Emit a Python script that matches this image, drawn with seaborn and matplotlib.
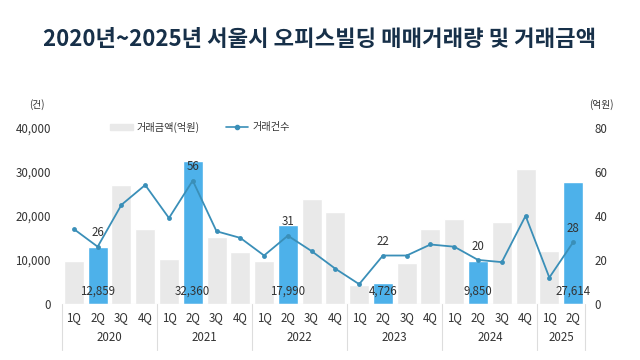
import matplotlib
matplotlib.use('Agg')
import matplotlib.pyplot as plt
import matplotlib.transforms as mtransforms
from matplotlib.patches import Patch
from matplotlib.lines import Line2D
import seaborn as sns
import pandas as pd

sns.set_style('white')
plt.rcParams['font.family'] = ['Noto Sans CJK KR', 'DejaVu Sans']

# 데이터
years = ['2020', '2021', '2022', '2023', '2024', '2025']
quarters = ['1Q', '2Q', '3Q', '4Q'] * 5 + ['1Q', '2Q']
amount = [9800, 12859, 27000, 17100,
          10200, 32360, 15100, 11700,
          9800, 17990, 23900, 20900,
          4400, 4726, 9300, 17100,
          19200, 9850, 18600, 30600,
          12100, 27614]
count = [34, 26, 45, 54,
         39, 56, 33, 30,
         22, 31, 24, 16,
         9, 22, 22, 27,
         26, 20, 19, 40,
         12, 28]
highlight = [q == '2Q' for q in quarters]

df = pd.DataFrame({'pos': range(len(amount)), 'q': quarters,
                   'amount': amount, 'count': count, 'hl': highlight})
df['key'] = df['pos'].astype(str)

gray = '#e9e9e9'
blue = '#4db1ea'
line_c = '#3a8fb8'
txt = '#333333'

fig = plt.figure(figsize=(6.4, 3.6), dpi=100)
ax = fig.add_axes([62/640, 1-304/360, (585-62)/640, (304-127.7)/360])

pal = {k: (blue if h else gray) for k, h in zip(df['key'], df['hl'])}
sns.barplot(data=df, x='key', y='amount', hue='key', palette=pal,
            width=0.84, legend=False, ax=ax, saturation=1)
ax.set_xlim(-0.5, len(amount)-0.5)
ax.set_ylim(0, 40000)
ax.set_yticks([0, 10000, 20000, 30000, 40000])
ax.set_yticklabels(['0', '10,000', '20,000', '30,000', '40,000'])
ax.set_xticks(range(len(amount)))
ax.set_xticklabels(quarters)
ax.tick_params(axis='both', length=0, labelsize=8.3, colors=txt)
ax.tick_params(axis='x', pad=5)
ax.tick_params(axis='y', pad=8)
ax.set_xlabel('')
ax.set_ylabel('')
for s in ax.spines.values():
    s.set_visible(False)

# 강조 막대 값
for i, r in df.iterrows():
    if r['hl']:
        ax.text(i, 3000, f"{r['amount']:,}", ha='center', va='center',
                fontsize=8.3, color=txt)

# 연도 구분
trans = mtransforms.blended_transform_factory(ax.transData, ax.transAxes)
bounds = [-0.5, 3.5, 7.5, 11.5, 15.5, 19.5, 21.5]
for b in bounds:
    ax.plot([b, b], [0, -0.26], transform=trans, color='#dddddd',
            lw=0.8, clip_on=False)
for y, a, b in zip(years, bounds[:-1], bounds[1:]):
    ax.text((a+b)/2, -0.19, y, transform=trans, ha='center', va='center',
            fontsize=8.3, color=txt)
ax.axhline(0, color='#e4e4e4', lw=0.8)

# 거래건수 선
ax2 = ax.twinx()
sns.lineplot(data=df, x='pos', y='count', color=line_c, lw=1.3,
             marker='o', markersize=3.5, markeredgewidth=0, ax=ax2)
ax2.set_ylim(0, 80)
ax2.set_yticks([0, 20, 40, 60, 80])
ax2.tick_params(axis='y', length=0, labelsize=8.3, colors=txt, pad=7)
ax2.set_xlabel('')
ax2.set_ylabel('')
for s in ax2.spines.values():
    s.set_visible(False)
for i, r in df.iterrows():
    if r['hl']:
        ax2.text(i, r['count']+6.3, str(r['count']), ha='center', va='center',
                 fontsize=8.3, color=txt)

# 단위
fig.text(37/640, 1-105/360, '(건)', ha='center', va='center', fontsize=7, color=txt)
fig.text(601/640, 1-105/360, '(억원)', ha='center', va='center', fontsize=7, color=txt)

handles = [Patch(color=gray, label='거래금액(억원)'),
           Line2D([0], [0], color=line_c, lw=1.2, marker='o', markersize=3,
                  label='거래건수')]
fig.legend(handles=handles, loc='center', bbox_to_anchor=(200/640, 1-127/360),
           ncol=2, frameon=False, fontsize=7.3, handlelength=2.2,
           handleheight=0.6, handletextpad=0.4, columnspacing=2.6,
           labelcolor=txt)

fig.text(0.5, 1-40/360, '2020년~2025년 서울시 오피스빌딩 매매거래량 및 거래금액',
         ha='center', va='center', fontsize=16, fontweight='bold', color='#173049')

fig.savefig('out.png', dpi=100, facecolor='white')
